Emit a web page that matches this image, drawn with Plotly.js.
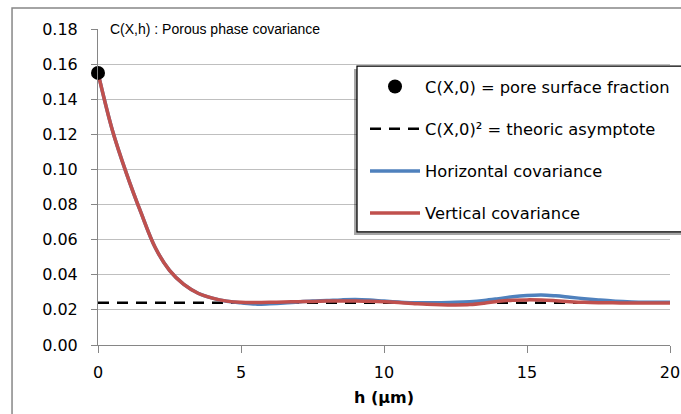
<!DOCTYPE html>
<html>
<head>
<meta charset="utf-8">
<script src="https://cdn.plot.ly/plotly-3.0.1.min.js"></script>
<style>html,body{margin:0;padding:0;background:#fff;}#chart{width:681px;height:414px;}</style>
</head>
<body>
<div id="chart"></div>
<script>
// h values (µm)
const h = [0,0.5,1,1.5,2,2.5,3,3.5,4,4.5,5,5.5,6,6.5,7,7.5,8,8.5,9,9.5,10,10.5,11,11.5,12,12.5,13,13.5,14,14.5,15,15.5,16,16.5,17,17.5,18,18.5,19,19.5,20];
// Horizontal covariance
const horizontal = [0.155,0.1225,0.0975,0.0755,0.0555,0.0425,0.0345,0.0295,0.0267,0.0249,0.0240,0.0233,0.0235,0.0239,0.0245,0.0250,0.0253,0.0257,0.0259,0.0256,0.0250,0.0245,0.0241,0.0240,0.0241,0.0243,0.0247,0.0254,0.0264,0.0275,0.0282,0.0285,0.0280,0.0272,0.0264,0.0257,0.0251,0.0247,0.0244,0.0243,0.0243];
// Vertical covariance
const vertical = [0.155,0.1225,0.0975,0.0755,0.0555,0.0425,0.0345,0.0295,0.0267,0.0250,0.0243,0.0242,0.0243,0.0245,0.0247,0.0248,0.0250,0.0251,0.0251,0.0249,0.0246,0.0242,0.0237,0.0232,0.0229,0.0228,0.0230,0.0238,0.0249,0.0255,0.0257,0.0256,0.0252,0.0247,0.0243,0.0241,0.0240,0.0239,0.0239,0.0239,0.0239];
// C(X,0) and its square (theoretic asymptote)
const c0X = [0];
const c0Y = [0.155];
const asymX = [0, 20];
const asymY = [0.155*0.155, 0.155*0.155];
const xTicks = [0,5,10,15,20];
const yTicks = [0,0.02,0.04,0.06,0.08,0.10,0.12,0.14,0.16,0.18];

const FONT = '"DejaVu Sans", sans-serif';
const TITLE_FONT = '"Liberation Sans", Arial, sans-serif';

const traces = [
  {x: asymX, y: asymY, mode:'lines', name:'C(X,0)² = theoric asymptote',
   line:{color:'#000000', width:2.5, dash:'11px,8px'}, legendrank:2, legendgroup:'b'},
  {x: h, y: horizontal, mode:'lines', name:'Horizontal covariance',
   line:{color:'#4F81BD', width:3.5, shape:'spline', smoothing:1}, legendrank:3, legendgroup:'c'},
  {x: h, y: vertical, mode:'lines', name:'Vertical covariance',
   line:{color:'#C0504D', width:3.5, shape:'spline', smoothing:1}, legendrank:4, legendgroup:'d'},
  {x: c0X, y: c0Y, mode:'markers', name:'C(X,0) = pore surface fraction',
   marker:{color:'#000000', size:14}, legendrank:1, legendgroup:'a', cliponaxis:false}
];

const layout = {
  width:681, height:414,
  margin:{l:98, r:11, t:29, b:69, autoexpand:false},
  paper_bgcolor:'#ffffff', plot_bgcolor:'#ffffff',
  font:{family:FONT, size:16, color:'#000000'},
  showlegend:true,
  legend:{x:0.4668, y:0.872, xanchor:'left', yanchor:'top', bgcolor:'rgba(0,0,0,0)',
    borderwidth:0, tracegroupgap:18, traceorder:'grouped',
    font:{family:FONT, size:16.3, color:'#000000'}, itemwidth:50},
  xaxis:{range:[0,20], tickvals:xTicks, ticktext:xTicks.map(String), showgrid:false, zeroline:false,
    showline:true, linecolor:'#868686', linewidth:1, ticks:'outside', ticklen:7, tickcolor:'#868686',
    ticklabelstandoff:6,
    title:{text:'<b>h (µm)</b>', font:{family:FONT, size:16, color:'#000000'}, standoff:10}},
  yaxis:{range:[0,0.18], tickvals:yTicks, ticktext:yTicks.map(v=>v.toFixed(2)), showgrid:true,
    gridcolor:'#bfbfbf', gridwidth:1, zeroline:false,
    showline:true, linecolor:'#868686', linewidth:1, ticks:'outside', ticklen:6, tickcolor:'#868686',
    ticklabelstandoff:10},
  annotations:[{xref:'paper', yref:'y', x:0.014, y:0.18, xanchor:'left', yanchor:'middle',
    text:'C(X,h) : Porous phase covariance', showarrow:false, bgcolor:'#ffffff', borderpad:3,
    font:{family:TITLE_FONT, size:14, color:'#000000'}}],
  shapes:[
    {type:'rect', xref:'paper', yref:'paper', x0:-0.1503, x1:1.06, y0:-0.3, y1:1.0665,
     line:{color:'#878787', width:1.5}, fillcolor:'rgba(0,0,0,0)', layer:'below'},
    {type:'rect', xref:'paper', yref:'paper', x0:0.4476, x1:1.06, y0:0.3481, y1:0.8734,
     line:{width:0}, fillcolor:'rgba(0,0,0,0.35)', layer:'above'},
    {type:'rect', xref:'paper', yref:'paper', x0:0.4528, x1:1.06, y0:0.3576, y1:0.8829,
     line:{color:'#000000', width:1.25}, fillcolor:'#ffffff', layer:'above'}
  ]
};

Plotly.newPlot('chart', traces, layout, {displayModeBar:false, staticPlot:true});
</script>
</body>
</html>
